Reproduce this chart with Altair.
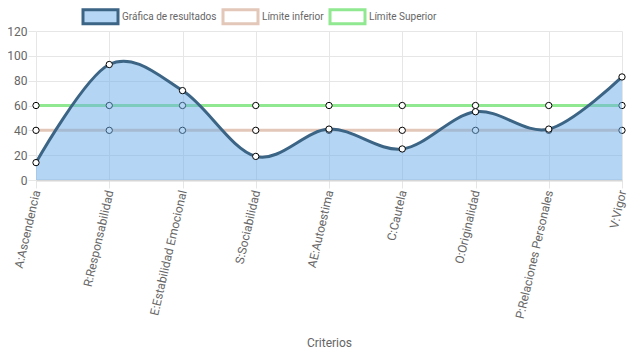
import altair as alt
import pandas as pd

categorias = ["A:Ascendencia", "R:Responsabilidad", "E:Estabilidad Emocional",
              "S:Sociabilidad", "AE:Autoestima", "C:Cautela", "O:Originalidad",
              "P:Relaciones Personales", "V:Vigor"]
resultados = [14, 93, 72, 19, 41, 25, 55, 41, 83]
limite_inferior = [40, 40, 40, 40, 40, 40, 40, 40, 40]
limite_superior = [60, 60, 60, 60, 60, 60, 60, 60, 60]

series = ["Gráfica de resultados", "Límite inferior", "Límite Superior"]
stroke_colors = ["#3c6485", "#e3c7b9", "#90e890"]
fill_colors = ["#b5d7f5", "#ffffff", "#ffffff"]

rows = []
for nombre, vals in zip(series, [resultados, limite_inferior, limite_superior]):
    for c, v in zip(categorias, vals):
        rows.append({"criterio": c, "valor": v, "serie": nombre})
df = pd.DataFrame(rows)

FONT = "Roboto"
GRID = "#e6e6e6"

x_enc = alt.X("criterio:N", sort=categorias,
              scale=alt.Scale(type="point", padding=0),
              axis=alt.Axis(title="Criterios", labelAngle=283, labelAlign="right",
                            labelBaseline="middle", labelPadding=2, tickSize=8,
                            tickColor=GRID, gridColor=GRID, grid=True,
                            domainColor="#d6d6d6", domainWidth=2,
                            labelColor="#666", labelFont=FONT, labelFontSize=12,
                            titleColor="#666", titleFont=FONT, titleFontSize=12,
                            titleFontWeight="normal", titlePadding=18))
y_enc = alt.Y("valor:Q", scale=alt.Scale(domain=[0, 120]),
              axis=alt.Axis(title=None, values=[0, 20, 40, 60, 80, 100, 120],
                            tickSize=8, labelPadding=1, tickColor=GRID,
                            gridColor=GRID, domain=False,
                            labelColor="#666", labelFont=FONT, labelFontSize=12))

base = alt.Chart(df).encode(x=x_enc, y=y_enc)

inf = base.transform_filter(alt.datum.serie == "Límite inferior")
sup = base.transform_filter(alt.datum.serie == "Límite Superior")
res = base.transform_filter(alt.datum.serie == "Gráfica de resultados")

line_inf = inf.mark_line(color=stroke_colors[1], strokeWidth=3)
line_sup = sup.mark_line(color=stroke_colors[2], strokeWidth=3)
pts_lim = base.transform_filter(alt.datum.serie != "Gráfica de resultados").mark_point(
    filled=True, fill="white", stroke="black", strokeWidth=1, size=40, opacity=1)

area_res = res.mark_area(interpolate="cardinal", color="#6aaeea", opacity=0.5)
line_res = res.mark_line(interpolate="cardinal", color=stroke_colors[0], strokeWidth=3)
pts_res = res.mark_point(filled=True, fill="white", stroke="black",
                         strokeWidth=1, size=40, opacity=1)

legend_cfg = dict(title=None, orient="none", direction="horizontal",
                  legendX=56, legendY=-23, padding=0,
                  symbolType="M-2.5,-1L2.5,-1L2.5,1L-2.5,1Z",
                  symbolSize=196, symbolStrokeWidth=3, symbolOpacity=1,
                  labelFont=FONT, labelFontSize=10, labelColor="#666",
                  labelOffset=13, columnPadding=0)

legend_layer = base.transform_filter(alt.datum.valor < -1000).mark_point(
    filled=True, strokeWidth=3).encode(
    stroke=alt.Stroke("serie:N", scale=alt.Scale(domain=series, range=stroke_colors),
                      legend=alt.Legend(**legend_cfg)),
    fill=alt.Fill("serie:N", scale=alt.Scale(domain=series, range=fill_colors),
                  legend=alt.Legend(**legend_cfg)),
)

chart = alt.layer(legend_layer, line_inf, line_sup, pts_lim, area_res, line_res, pts_res).properties(
    width=586, height=149,
    autosize=alt.AutoSizeParams(type="none"),
    padding={"left": 28, "top": 23, "right": 7, "bottom": 171},
).configure_view(stroke=None)

chart.save("out.html", embed_options={"renderer": "svg", "actions": False})
